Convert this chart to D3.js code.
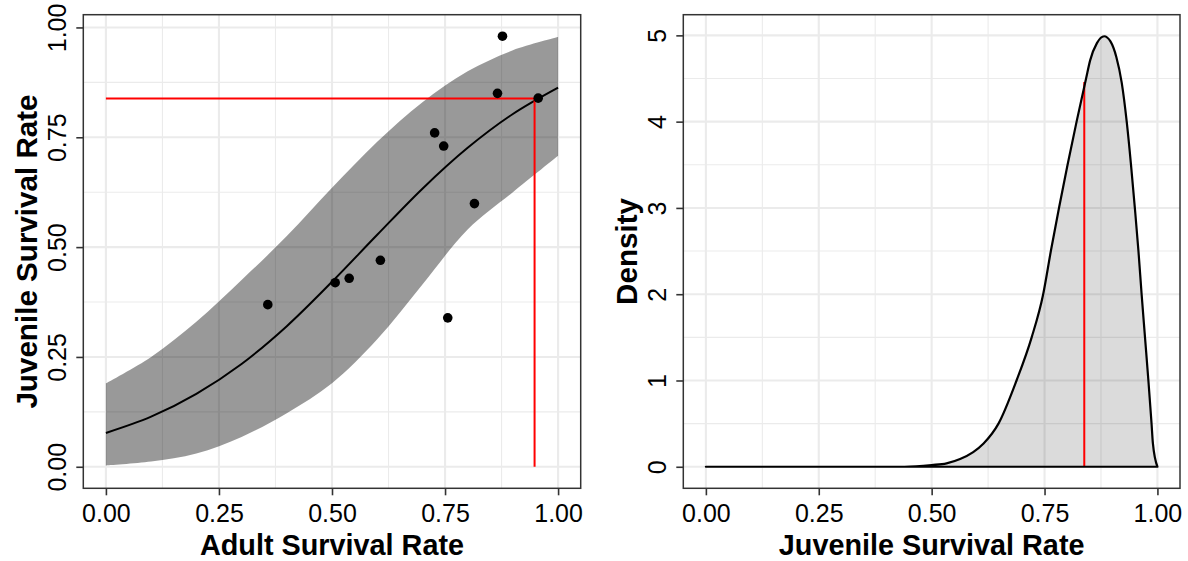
<!DOCTYPE html>
<html><head><meta charset="utf-8">
<script src="https://cdn.jsdelivr.net/npm/d3@7"></script>
<style>body{margin:0;background:#fff} text{font-family:"Liberation Sans",Arial,sans-serif}</style>
</head><body><svg id="c" width="1188" height="561"></svg>
<script>
// ---- data ----
const adultRate    = [0.358, 0.507, 0.538, 0.607, 0.727, 0.747, 0.756, 0.815, 0.866, 0.877, 0.956];
const juvenileRate = [0.369, 0.419, 0.429, 0.470, 0.760, 0.730, 0.339, 0.599, 0.850, 0.980, 0.839];
const fitX     = [0, 0.1, 0.2, 0.3, 0.4, 0.5, 0.6, 0.7, 0.8, 0.9, 1.0];
const fitMid   = [0.077, 0.114, 0.166, 0.234, 0.320, 0.421, 0.528, 0.633, 0.726, 0.803, 0.863];
const fitLower = [0.003, 0.012, 0.030, 0.068, 0.122, 0.190, 0.290, 0.415, 0.540, 0.625, 0.708];
const fitUpper = [0.190, 0.250, 0.330, 0.425, 0.525, 0.635, 0.740, 0.830, 0.900, 0.948, 0.978];
const refAdult = 0.948, refJuvenile = 0.838, refDensity = 4.46;
const densX = [0, 0.44, 0.50, 0.533, 0.563, 0.592, 0.615, 0.648, 0.688, 0.7215, 0.747, 0.764, 0.782, 0.801, 0.821, 0.842, 0.851, 0.866, 0.882, 0.896, 0.909, 0.921, 0.932, 0.9415, 0.950, 0.958, 0.965, 0.9725, 0.980, 0.987, 0.990, 1.0];
const densY = [0, 0, 0.02, 0.04, 0.09, 0.17, 0.27, 0.50, 1.00, 1.50, 2.00, 2.50, 3.00, 3.50, 4.00, 4.50, 4.71, 4.91, 4.99, 4.93, 4.75, 4.45, 4.00, 3.50, 3.00, 2.50, 2.00, 1.50, 1.00, 0.50, 0.27, 0];
const xTicks = [0, 0.25, 0.5, 0.75, 1];
const xMinor = [0.125, 0.375, 0.625, 0.875];
const yTicksLeft = [0, 0.25, 0.5, 0.75, 1];
const yMinorLeft = [0.125, 0.375, 0.625, 0.875];
const yTicksRight = [0, 1, 2, 3, 4, 5];
const yMinorRight = [0.5, 1.5, 2.5, 3.5, 4.5];

// ---- layout ----
const svg = d3.select("#c");
svg.append("rect").attr("width",1188).attr("height",561).attr("fill","#fff");
const pTop = 14.7, pBottom = 488.3;
const TICK = 25, TITLE = 28.8;

function panel(left, right, xDom, yDom, yTicks, yMinor, xTitle, yTitle, fmtY) {
  const x = d3.scaleLinear().domain(xDom).range([left, right]);
  const y = d3.scaleLinear().domain(yDom).range([pBottom, pTop]);
  const g = svg.append("g");
  g.selectAll(".vmin").data(xMinor).join("line").attr("x1",d=>x(d)).attr("x2",d=>x(d)).attr("y1",pTop).attr("y2",pBottom).attr("stroke","#ebebeb").attr("stroke-width",1.1);
  g.selectAll(".hmin").data(yMinor).join("line").attr("y1",d=>y(d)).attr("y2",d=>y(d)).attr("x1",left).attr("x2",right).attr("stroke","#ebebeb").attr("stroke-width",1.1);
  g.selectAll(".vmaj").data(xTicks).join("line").attr("x1",d=>x(d)).attr("x2",d=>x(d)).attr("y1",pTop).attr("y2",pBottom).attr("stroke","#ebebeb").attr("stroke-width",2.1);
  g.selectAll(".hmaj").data(yTicks).join("line").attr("y1",d=>y(d)).attr("y2",d=>y(d)).attr("x1",left).attr("x2",right).attr("stroke","#ebebeb").attr("stroke-width",2.1);
  const content = svg.append("g");
  const ax = svg.append("g").attr("transform",`translate(0,${pBottom})`)
    .call(d3.axisBottom(x).tickValues(xTicks).tickFormat(d3.format(".2f")).tickSize(7).tickSizeOuter(0));
  ax.select(".domain").remove();
  ax.selectAll(".tick line").attr("stroke","#333").attr("stroke-width",1.6);
  ax.selectAll(".tick text").attr("y",34.2).attr("dy",0).attr("font-size",TICK).attr("fill","#000").style("font-family","Liberation Sans, Arial, sans-serif");
  const ay = svg.append("g").attr("transform",`translate(${left},0)`)
    .call(d3.axisLeft(y).tickValues(yTicks).tickFormat(fmtY).tickSize(7).tickSizeOuter(0));
  ay.select(".domain").remove();
  ay.selectAll(".tick line").attr("stroke","#333").attr("stroke-width",1.6);
  ay.selectAll(".tick text").attr("transform","rotate(-90)").attr("x",0).attr("y",-17).attr("dy",0)
    .attr("text-anchor","middle").attr("font-size",TICK).attr("fill","#000").style("font-family","Liberation Sans, Arial, sans-serif");
  svg.append("text").attr("x",(left+right)/2).attr("y",554.6).attr("text-anchor","middle")
    .attr("font-size",TITLE).attr("font-weight","bold").text(xTitle);
  svg.append("text").attr("transform",`translate(${left-46.8},${(pTop+pBottom)/2}) rotate(-90)`).attr("text-anchor","middle")
    .attr("font-size",TITLE+0.8).attr("font-weight","bold").text(yTitle);
  return {x, y, content, left, right};
}

// ---- left panel ----
const L = panel(83.3, 580.7, [-0.05, 1.05], [-0.049, 1.029], yTicksLeft, yMinorLeft,
  "Adult Survival Rate", "Juvenile Survival Rate", d3.format(".2f"));
const fitData = fitX.map((v,i)=>({x:v, m:fitMid[i], lo:fitLower[i], hi:fitUpper[i]}));
L.content.append("path").datum(fitData)
  .attr("d", d3.area().x(d=>L.x(d.x)).y0(d=>L.y(d.lo)).y1(d=>L.y(d.hi)).curve(d3.curveCatmullRom))
  .attr("fill","#000").attr("fill-opacity",0.4);
L.content.append("path").datum(fitData)
  .attr("d", d3.line().x(d=>L.x(d.x)).y(d=>L.y(d.m)).curve(d3.curveCatmullRom))
  .attr("fill","none").attr("stroke","#000").attr("stroke-width",2);
L.content.append("line").attr("x1",L.x(0)).attr("x2",L.x(refAdult)).attr("y1",L.y(refJuvenile)).attr("y2",L.y(refJuvenile))
  .attr("stroke","#ff0000").attr("stroke-width",2);
L.content.append("line").attr("x1",L.x(refAdult)).attr("x2",L.x(refAdult)).attr("y1",L.y(0)).attr("y2",L.y(refJuvenile))
  .attr("stroke","#ff0000").attr("stroke-width",2);
L.content.selectAll("circle").data(adultRate).join("circle")
  .attr("cx",d=>L.x(d)).attr("cy",(d,i)=>L.y(juvenileRate[i])).attr("r",4.8).attr("fill","#000");
svg.append("rect").attr("x",83.3).attr("y",pTop).attr("width",580.7-83.3).attr("height",pBottom-pTop)
  .attr("fill","none").attr("stroke","#333").attr("stroke-width",1.5);

// ---- right panel ----
const R = panel(683.3, 1180, [-0.05, 1.05], [-0.2495, 5.2395], yTicksRight, yMinorRight,
  "Juvenile Survival Rate", "Density", d3.format("d"));
const dens = densX.map((v,i)=>({x:v, d:densY[i]}));
R.content.append("path").datum(dens)
  .attr("d", d3.area().x(d=>R.x(d.x)).y0(R.y(0)).y1(d=>R.y(d.d)).curve(d3.curveMonotoneX))
  .attr("fill","#000").attr("fill-opacity",0.14);
R.content.append("line").attr("x1",R.x(refJuvenile)).attr("x2",R.x(refJuvenile)).attr("y1",R.y(0)).attr("y2",R.y(refDensity))
  .attr("stroke","#ff0000").attr("stroke-width",2);
R.content.append("path").datum(dens)
  .attr("d", d3.area().x(d=>R.x(d.x)).y0(R.y(0)).y1(d=>R.y(d.d)).curve(d3.curveMonotoneX))
  .attr("fill","none").attr("stroke","#000").attr("stroke-width",2.2).attr("stroke-linejoin","round");
svg.append("rect").attr("x",683.3).attr("y",pTop).attr("width",1180-683.3).attr("height",pBottom-pTop)
  .attr("fill","none").attr("stroke","#333").attr("stroke-width",1.5);
</script></body></html>
